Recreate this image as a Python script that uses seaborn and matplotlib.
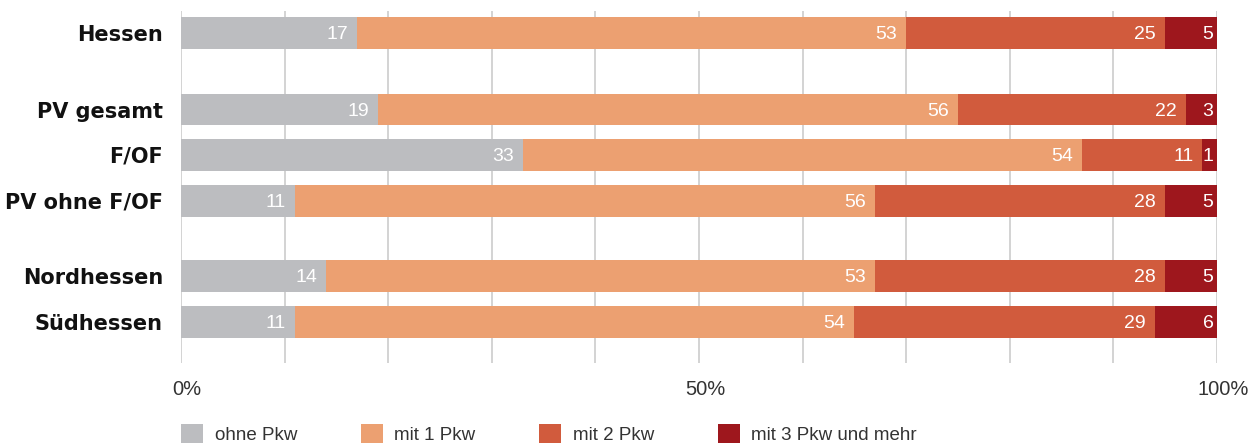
import numpy as np
import pandas as pd
import seaborn as sns
import matplotlib.pyplot as plt
import matplotlib.transforms as mtransforms
from matplotlib.patches import Patch

# ---- data ----
regions = ["Hessen", "PV gesamt", "F/OF", "PV ohne F/OF", "Nordhessen", "Südhessen"]
series = ["ohne Pkw", "mit 1 Pkw", "mit 2 Pkw", "mit 3 Pkw und mehr"]
ohne_pkw = [17, 19, 33, 11, 14, 11]
mit_1_pkw = [53, 56, 54, 56, 53, 54]
mit_2_pkw = [25, 22, 11.6, 28, 28, 29]
mit_3_pkw = [5, 3, 1.4, 5, 5, 6]
tick_values = [0, 50, 100]

# ---- layout / style ----
y_pos = [0, 1.67, 2.65, 3.65, 5.28, 6.28]
colors = ["#BCBDC0", "#ECA071", "#D15B3D", "#9E171D"]

sns.set_theme(style="white")
plt.rcParams["font.family"] = ["Liberation Sans", "DejaVu Sans"]

W, H = 1257, 446
fig = plt.figure(figsize=(W / 100, H / 100), dpi=100)
ax = fig.add_axes([181 / W, 1 - 363 / H, 1036 / W, 352 / H])

vals = np.array([ohne_pkw, mit_1_pkw, mit_2_pkw, mit_3_pkw], dtype=float)
cum = np.cumsum(vals, axis=0)

for i in reversed(range(len(series))):
    df = pd.DataFrame({"pos": y_pos, "val": cum[i]})
    sns.barplot(data=df, x="val", y="pos", orient="y", native_scale=True,
                color=colors[i], saturation=1, width=0.69, errorbar=None,
                ax=ax, zorder=2, linewidth=0)

# value labels
for i in range(len(series)):
    pad = -2.5 if i == len(series) - 1 else -6.5
    for j in range(len(regions)):
        ax.annotate(f"{int(vals[i, j])}", xy=(cum[i, j], y_pos[j]),
                    xytext=(pad, -1), textcoords="offset points",
                    ha="right", va="center", color="white", fontsize=14,
                    zorder=3)

ax.set_xlim(0, 100)
ax.set_ylim(7.17, -0.478)
ax.set_xticks(range(0, 101, 10))
ax.set_xticklabels([f"{t}%" if t in tick_values else "" for t in range(0, 101, 10)],
                   fontsize=14.5, color="#333333")
ax.set_yticks(y_pos)
ax.set_yticklabels(regions, fontsize=15, fontweight="heavy",
                   family="DejaVu Sans", color="#111111")
ax.tick_params(axis="both", length=0)
ax.tick_params(axis="x", pad=12)
ax.tick_params(axis="y", pad=13)
shift = mtransforms.ScaledTranslation(6 / 100, 0, fig.dpi_scale_trans)
for lab in ax.get_xticklabels():
    lab.set_transform(lab.get_transform() + shift)
ax.grid(axis="x", color="#D3D3D3", linewidth=1.4)
ax.grid(axis="y", visible=False)
ax.set_axisbelow(True)
for s in ax.spines.values():
    s.set_visible(False)
ax.set_xlabel("")
ax.set_ylabel("")

handles = [Patch(facecolor=c, edgecolor="none", label=l) for c, l in zip(colors, series)]
fig.legend(handles=handles, loc="upper left", bbox_to_anchor=(181 / W, 1 - 424 / H),
           ncol=4, frameon=False, fontsize=13.5, labelcolor="#333333",
           handlelength=1.17, handleheight=1.2, handletextpad=0.62,
           columnspacing=3.4, borderpad=0, borderaxespad=0)

fig.savefig("out.png", dpi=100)
